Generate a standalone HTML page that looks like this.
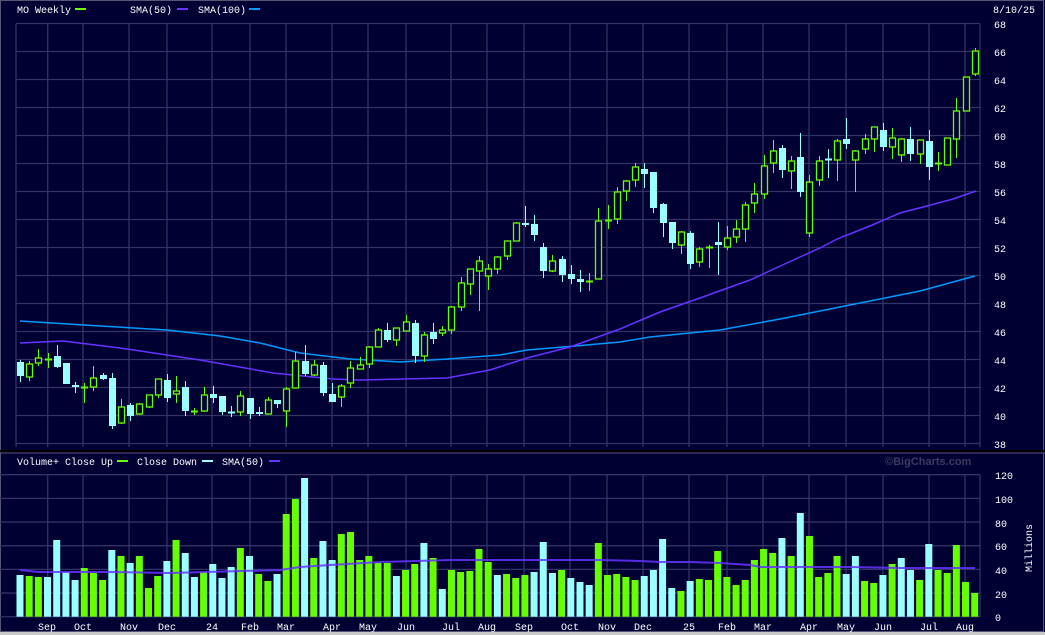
<!DOCTYPE html>
<html><head><meta charset="utf-8"><style>
html,body{margin:0;padding:0;background:#000033;}
svg{display:block;}
text{font-family:"Liberation Mono",monospace;font-size:10px;fill:#ffffff;}
</style></head><body>
<svg id="c" width="1045" height="635" xmlns="http://www.w3.org/2000/svg">
<rect x="0" y="0" width="1045" height="635" fill="#000033"/>
<rect x="0.5" y="0.5" width="1043" height="631" fill="none" stroke="#555577"/>
<rect x="0" y="632" width="1045" height="3" fill="#c8c8c8"/>
<line x1="0" y1="451" x2="1045" y2="451" stroke="#000000" stroke-width="2"/>
<line x1="0" y1="453" x2="1045" y2="453" stroke="#555577"/>
<g id="grid" stroke="#333366" stroke-width="1.3"></g>
<g id="lines"></g>
<g id="shapes"></g>
<!-- legend top -->
<text x="17" y="13">MO Weekly</text>
<rect x="75" y="8" width="11" height="2" fill="#66ff00"/>
<text x="130" y="13">SMA(50)</text>
<rect x="177" y="8" width="11" height="2" fill="#6633ff"/>
<text x="198" y="13">SMA(100)</text>
<rect x="249" y="8" width="11" height="2" fill="#0099ff"/>
<text x="993" y="13">8/10/25</text>
<!-- price axis -->
<text x="994" y="28">68</text><text x="994" y="56">66</text><text x="994" y="84">64</text><text x="994" y="112">62</text>
<text x="994" y="140">60</text><text x="994" y="168">58</text><text x="994" y="196">56</text><text x="994" y="224">54</text>
<text x="994" y="252">52</text><text x="994" y="280">50</text><text x="994" y="308">48</text><text x="994" y="336">46</text>
<text x="994" y="364">44</text><text x="994" y="392">42</text><text x="994" y="420">40</text><text x="994" y="448">38</text>
<!-- volume legend -->
<text x="17" y="465">Volume+ Close Up</text>
<rect x="117" y="460" width="11" height="2" fill="#66ff00"/>
<text x="137" y="465">Close Down</text>
<rect x="202" y="460" width="11" height="2" fill="#99ffff"/>
<text x="222" y="465">SMA(50)</text>
<rect x="269" y="460" width="11" height="2" fill="#6633ff"/>
<text x="885" y="465" style="fill:#3a3a60;font-weight:bold;font-family:'Liberation Sans',sans-serif;font-size:11px">©BigCharts.com</text>
<!-- volume axis -->
<text x="995" y="479">120</text><text x="995" y="503">100</text><text x="995" y="527">80</text><text x="995" y="550">60</text>
<text x="995" y="574">40</text><text x="995" y="598">20</text><text x="995" y="621">0</text>
<text x="1032" y="548" transform="rotate(-90 1032 548)" text-anchor="middle">Millions</text>
<!-- x labels -->
<g text-anchor="middle">
<text x="47" y="630">Sep</text><text x="83" y="630">Oct</text><text x="129" y="630">Nov</text><text x="167" y="630">Dec</text>
<text x="212" y="630">24</text><text x="250" y="630">Feb</text><text x="286" y="630">Mar</text><text x="332" y="630">Apr</text>
<text x="368" y="630">May</text><text x="406" y="630">Jun</text><text x="451" y="630">Jul</text><text x="487" y="630">Aug</text>
<text x="524" y="630">Sep</text><text x="570" y="630">Oct</text><text x="607" y="630">Nov</text><text x="643" y="630">Dec</text>
<text x="689" y="630">25</text><text x="727" y="630">Feb</text><text x="763" y="630">Mar</text><text x="809" y="630">Apr</text>
<text x="846" y="630">May</text><text x="883" y="630">Jun</text><text x="929" y="630">Jul</text><text x="965" y="630">Aug</text>
</g>
</svg>
<script>
var NS="http://www.w3.org/2000/svg";
function el(p,n,a){var e=document.createElementNS(NS,n);for(var k in a)e.setAttribute(k,a[k]);p.appendChild(e);return e;}
var g=document.getElementById("grid"),L=document.getElementById("lines"),S=document.getElementById("shapes");
var mx=[47.7,83,129,167,212,250,286,332,368,406,451,487,524,570,607,643,689,727,763,809,846,883,929,965];
// price panel
for(var k=0;k<16;k++){var y=23.5+k*28;el(g,"line",{x1:16,y1:y,x2:980,y2:y});}
el(g,"line",{x1:16,y1:23.5,x2:16,y2:447});el(g,"line",{x1:980,y1:23.5,x2:980,y2:447});
mx.forEach(function(x){el(g,"line",{x1:x,y1:23.5,x2:x,y2:447});});
// volume panel
for(var k=0;k<7;k++){var y=474.7+k*23.67;el(g,"line",{x1:0,y1:y,x2:980,y2:y});}
el(g,"line",{x1:980,y1:474.7,x2:980,y2:617});
mx.forEach(function(x){el(g,"line",{x1:x,y1:474.7,x2:x,y2:617});});
function pl(pts,c,w){el(L,"polyline",{points:pts.map(function(p){return p.join(",")}).join(" "),fill:"none",stroke:c,"stroke-width":w});}
pl([[20,321],[100,326],[167,330],[220,336],[260,343],[300,353],[350,359],[400,362],[447,359],[500,355],[527,350],[575,346],[620,342],[650,337],[720,330],[780,319],[850,305],[920,291],[975,276]],"#0099ff",1.5);
pl([[20,343],[63,341],[120,348],[200,360],[273,373],[333,379],[360,380],[447,378],[490,370],[527,358],[570,347],[620,329],[660,312],[700,298],[750,280],[800,257],[820,248],[837,239],[870,226],[900,213],[927,206],[953,199],[976,191]],"#6633ff",1.5);
var C=[["d",362,376,360,382],["u",364,377,361,381],["u",358,363,349,366],["u",359,359,353,368],["d",356,367,345,368],["d",363,384,363,384],["d",385,387,382,393],["u",387,387,383,403],["u",378,387,366,391],["d",375,379,373,380],["d",378,426,373,429],["u",407,423,399,424],["d",405,416,403,421],["u",404,414,403,415],["u",395,407,395,408],["u",379,395,379,398],["d",380,398,374,402],["u",391,394,376,403],["d",387,411,381,416],["u",411,411,408,415],["u",395,411,387,412],["d",394,398,386,403],["d",396,412,396,415],["d",412,413,406,417],["u",396,412,391,416],["d",398,414,398,419],["d",412,414,407,416],["u",400,414,397,414],["d",400,404,400,408],["u",389,411,387,427],["u",361,388,352,388],["d",361,374,345,376],["u",365,375,360,376],["d",365,393,362,396],["d",394,402,383,402],["u",386,397,384,407],["u",368,383,361,388],["u",365,369,357,369],["u",347,364,346,368],["u",330,347,328,347],["d",330,340,323,342],["u",328,340,328,346],["u",322,331,315,331],["d",323,356,320,363],["u",335,356,332,362],["d",332,339,323,344],["u",330,333,326,336],["u",307,330,306,334],["u",283,307,277,311],["u",269,284,269,295],["u",261,271,256,311],["u",269,276,264,290],["u",257,269,256,274],["u",241,256,241,260],["u",223,241,222,241],["d",223,225,206,227],["d",224,235,215,241],["d",247,271,243,278],["u",261,271,255,272],["d",259,275,256,282],["d",274,279,265,284],["d",279,282,270,292],["u",281,281,273,291],["u",221,279,208,279],["u",220,220,205,229],["u",192,219,187,224],["u",181,191,180,201],["u",167,180,163,187],["d",169,174,163,188],["d",172,208,172,213],["d",204,223,203,237],["d",222,243,222,249],["u",232,245,231,254],["d",233,264,231,269],["u",249,262,247,267],["u",247,247,245,268],["d",242,245,222,275],["u",238,247,226,250],["u",229,237,220,243],["u",205,229,202,242],["u",194,203,183,213],["u",166,194,155,199],["u",151,163,140,173],["d",148,170,145,178],["u",161,171,156,189],["d",157,192,133,197],["u",182,233,175,237],["u",161,180,156,186],["d",159,160,149,178],["u",141,160,139,181],["d",139,144,118,149],["u",151,160,150,192],["u",139,149,134,154],["u",127,139,127,152],["d",130,147,123,151],["u",138,147,128,159],["u",139,155,138,162],["d",139,154,127,161],["u",140,154,140,164],["d",141,167,130,180],["u",163,163,152,171],["u",138,165,138,165],["u",111,139,98,158],["u",77,111,77,111],["u",51,74,48,76]];
C.forEach(function(c,i){var x=Math.round(20+i*9.18)+0.5;var col=c[0]=="u"?"#66ff00":"#99ffff";
 el(S,"line",{x1:x,y1:c[3],x2:x,y2:c[4],stroke:col,"stroke-width":1});
 var h=c[2]-c[1];
 if(h<2){el(S,"rect",{x:x-3.5,y:c[1]-0.5,width:7,height:2,fill:col});}
 else if(c[0]=="u"){el(S,"rect",{x:x-3,y:c[1],width:6,height:h,fill:"#000033",stroke:col,"stroke-width":1.3});}
 else{el(S,"rect",{x:x-3.5,y:c[1],width:7,height:h,fill:col});}
});
var V=[315,318,321,321,210,306,330,294,309,330,240,258,279,258,354,318,273,210,249,321,306,282,324,291,234,258,312,333,312,132,87,24,264,213,270,192,186,270,258,279,279,318,300,282,219,264,357,300,306,303,237,276,315,312,324,315,306,216,309,300,324,336,345,219,315,312,321,330,318,300,207,354,363,333,327,330,243,321,345,330,270,237,249,204,258,129,198,321,309,258,312,258,333,339,315,282,264,300,330,222,300,309,225,336,369];
var VC="cggccccgggcgcgggcgccgcccgcggcggcgccg"+"gggggcggcgcgggggcgggcccgcccgggggcc"+"ccgcgggggggggcgcggggccggcgccgcggggg";
V.forEach(function(v,i){var x=20+i*9.18;var t=470+v/3;
 el(S,"rect",{x:x-3.5,y:t,width:7,height:616.7-t,fill:VC[i]=="g"?"#66ff00":"#99ffff"});});
var vp=[[20,570],[38,572],[110,572],[170,573],[280,570],[300,567],[330,565],[380,562],[450,560],[510,560],[550,560],[600,560],[640,561],[660,562],[690,562],[720,563],[750,565],[760,567],[800,567],[850,567],[900,568],[975,568]];
el(S,"polyline",{points:vp.map(function(p){return p.join(",")}).join(" "),fill:"none",stroke:"#6633ff","stroke-width":2,"stroke-opacity":0.85});
</script>
</body></html>
